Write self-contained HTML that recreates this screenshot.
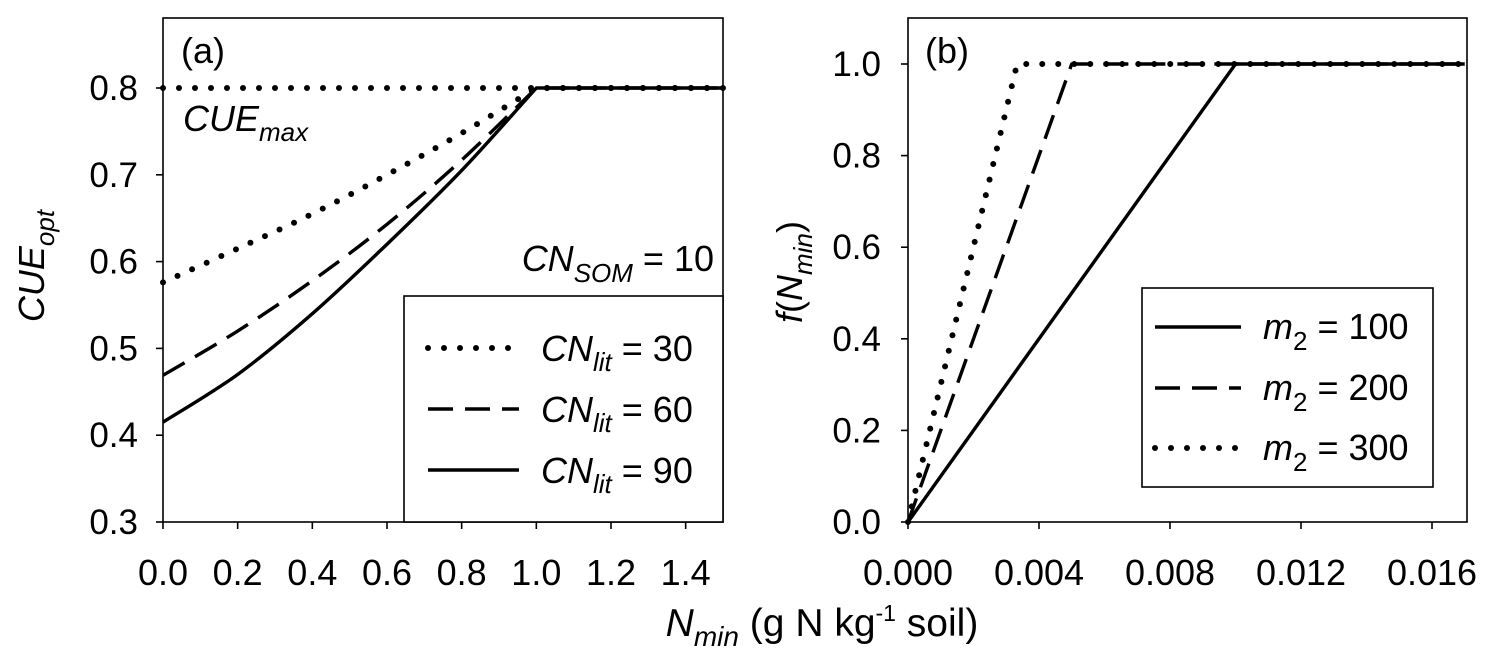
<!DOCTYPE html>
<html><head><meta charset="utf-8"><style>
html,body{margin:0;padding:0;background:#fff;}
svg{display:block;font-family:"Liberation Sans",Arial,sans-serif;}
</style></head><body>
<svg id="fig" width="1501" height="660" viewBox="0 0 1501 660">
<g id="pa"></g>
<g id="pb"></g>
<text x="822" y="636" font-size="39" text-anchor="middle"><tspan font-style="italic">N</tspan><tspan font-style="italic" font-size="28" dy="10">min</tspan><tspan dy="-10"> (g N kg</tspan><tspan font-size="23" dy="-15">-1</tspan><tspan dy="15"> soil)</tspan></text>
</svg>
<script>
// Panel A data
const aX = [0,0.2,0.4,0.6,0.8,1.0,1.5];
const aCN30 = [0.576,0.615,0.655,0.700,0.748,0.8,0.8];
const aCN60 = [0.469,0.520,0.578,0.643,0.717,0.8,0.8];
const aCN90 = [0.415,0.470,0.540,0.620,0.705,0.8,0.8];
const aYTicks = [0.3,0.4,0.5,0.6,0.7,0.8];
const aXTicks = [0.0,0.2,0.4,0.6,0.8,1.0,1.2,1.4];
const aCueMax = 0.8;
// Panel B data
const bX100 = [0,0.01,0.017];
const bY100 = [0,1,1];
const bX200 = [0,0.005,0.017];
const bY200 = [0,1,1];
const bX300 = [0,0.00333,0.017];
const bY300 = [0,1,1];
const bYTicks = [0.0,0.2,0.4,0.6,0.8,1.0];
const bXTicks = [0.000,0.004,0.008,0.012,0.016];

const NS="http://www.w3.org/2000/svg";
function mk(parent,tag,attrs){const e=document.createElementNS(NS,tag);for(const k in attrs)e.setAttribute(k,attrs[k]);parent.appendChild(e);return e;}
const STY={
 dot:{"stroke-dasharray":"0 16","stroke-width":"6","stroke-linecap":"round"},
 dash:{"stroke-dasharray":"25 12","stroke-width":"3.4","stroke-linecap":"butt"},
 solid:{"stroke-width":"3.4"}
};
function line(g,xs,ys,sx,sy,sty){
 return mk(g,"polyline",Object.assign({points:xs.map((x,i)=>sx(x)+","+sy(ys[i])).join(" "),fill:"none",stroke:"#000","stroke-linejoin":"round"},STY[sty]));
}
function smooth(g,xs,ys,sx,sy,sty){
 const P=xs.map((x,i)=>[sx(x),sy(ys[i])]);
 const n=P.length-1;
 let d="M"+P[0][0]+","+P[0][1];
 for(let i=0;i<n-1;i++){
  const p0=P[Math.max(0,i-1)],p1=P[i],p2=P[i+1],p3=(i+2<=n-1)?P[i+2]:[2*P[i+1][0]-P[i][0],2*P[i+1][1]-P[i][1]];
  const c1=[p1[0]+(p2[0]-p0[0])/6,p1[1]+(p2[1]-p0[1])/6];
  const c2=[p2[0]-(p3[0]-p1[0])/6,p2[1]-(p3[1]-p1[1])/6];
  d+=" C"+c1+" "+c2+" "+p2;
 }
 d+=" L"+P[n];
 return mk(g,"path",Object.assign({d:d,fill:"none",stroke:"#000","stroke-linejoin":"round"},STY[sty]));
}
function axes(g,L,R,T,B,sx,sy,xt,yt,xfmt,yfmt,yoff){
 const f=mk(g,"rect",{x:L,y:T,width:R-L,height:B-T,fill:"none",stroke:"#000","stroke-width":"1.6"});
 
 
 yt.forEach(v=>{
  const t=mk(g,"line",{x1:L-7,x2:L,y1:sy(v),y2:sy(v),stroke:"#000","stroke-width":"1.6"});
  
  
  const l=mk(g,"text",{x:L-yoff,y:sy(v)+12,"font-size":"35","text-anchor":"end"});l.textContent=yfmt(v);
  
  
 });
 xt.forEach(v=>{
  const t=mk(g,"line",{x1:sx(v),x2:sx(v),y1:B,y2:B+7,stroke:"#000","stroke-width":"1.6"});
  
  
  const l=mk(g,"text",{x:sx(v),y:B+63,"font-size":"36","text-anchor":"middle"});l.textContent=xfmt(v);
  
  
 });
}
// Panel A
(function(){
 const g=document.getElementById('pa');
 const L=163,R=723,T=18,B=522;
 const sx=x=>L+(x-0)/1.5*(R-L);
 const sy=y=>B-(y-0.3)/0.5*434;
 axes(g,L,R,T,B,sx,sy,aXTicks,aYTicks,v=>v.toFixed(1),v=>v.toFixed(1),25);
 const cm=line(g,[0,1.5],[aCueMax,aCueMax],sx,sy,"dot");
 
 
 const s1=smooth(g,aX,aCN30,sx,sy,"dot");
 
 
 const s2=smooth(g,aX,aCN60,sx,sy,"dash");
 
 
 const s3=smooth(g,aX,aCN90,sx,sy,"solid");
 
 
 const pl=mk(g,"text",{x:181,y:63,"font-size":"36"});pl.textContent="(a)";
 
 
 const ce=mk(g,"text",{x:183,y:131,"font-size":"36","font-style":"italic"});ce.innerHTML='CUE<tspan font-size="26" dy="10">max</tspan>';
 
 
 const cs=mk(g,"text",{x:714,y:271,"font-size":"36","text-anchor":"end"});cs.innerHTML='<tspan font-style="italic">CN</tspan><tspan font-style="italic" font-size="26" dy="11">SOM</tspan><tspan dy="-11"> = 10</tspan>';
 
 
 const lg=mk(g,"g",{});
 
 
 mk(lg,"rect",{x:404,y:296,width:319,height:226,fill:"#fff",stroke:"#000","stroke-width":"1.6"});
 [["dot","30",348],["dash","60",409],["solid","90",470]].forEach(([s,v,y])=>{
  const e=mk(lg,"g",{});
  
  
  mk(e,"line",Object.assign({x1:428,x2:519,y1:y,y2:y,stroke:"#000"},STY[s]));
  const t=mk(e,"text",{x:541,y:y+13,"font-size":"36"});
  t.innerHTML='<tspan font-style="italic">CN</tspan><tspan font-style="italic" font-size="26" dy="10">lit</tspan><tspan dy="-10"> = '+v+'</tspan>';
 });
 const yl=mk(g,"text",{x:0,y:0,"font-size":"36","text-anchor":"middle",transform:"translate(44,266) rotate(-90)","font-style":"italic"});
 yl.innerHTML='CUE<tspan font-size="26" dy="10">opt</tspan>';
 
 
})();
// Panel B
(function(){
 const g=document.getElementById('pb');
 const L=908,R=1467,T=18,B=522;
 const sx=x=>L+x/0.016*524;
 const sy=y=>B-y*458;
 axes(g,L,R,T,B,sx,sy,bXTicks,bYTicks,v=>v.toFixed(3),v=>v.toFixed(1),27);
 const s1=line(g,bX100,bY100,sx,sy,"solid");
 
 
 const s2=line(g,bX200,bY200,sx,sy,"dash");
 
 
 const s3=line(g,bX300,bY300,sx,sy,"dot");
 
 
 const pl=mk(g,"text",{x:925,y:63,"font-size":"36"});pl.textContent="(b)";
 
 
 const lg=mk(g,"g",{});
 
 
 mk(lg,"rect",{x:1142,y:288,width:291,height:199,fill:"#fff",stroke:"#000","stroke-width":"1.6"});
 [["solid","100",327],["dash","200",388],["dot","300",448]].forEach(([s,v,y])=>{
  const e=mk(lg,"g",{});
  
  
  mk(e,"line",Object.assign({x1:1155,x2:1241,y1:y,y2:y,stroke:"#000"},STY[s]));
  const t=mk(e,"text",{x:1263,y:y+12,"font-size":"36"});
  t.innerHTML='<tspan font-style="italic">m</tspan><tspan font-size="26" dy="11">2</tspan><tspan dy="-11"> = '+v+'</tspan>';
 });
 const yl=mk(g,"text",{x:0,y:0,"font-size":"36","text-anchor":"middle",transform:"translate(802,272) rotate(-90)"});
 yl.innerHTML='<tspan font-style="italic">f</tspan>(<tspan font-style="italic">N</tspan><tspan font-style="italic" font-size="26" dy="10">min</tspan><tspan dy="-10">)</tspan>';
 
 
})();
</script>
</body></html>
